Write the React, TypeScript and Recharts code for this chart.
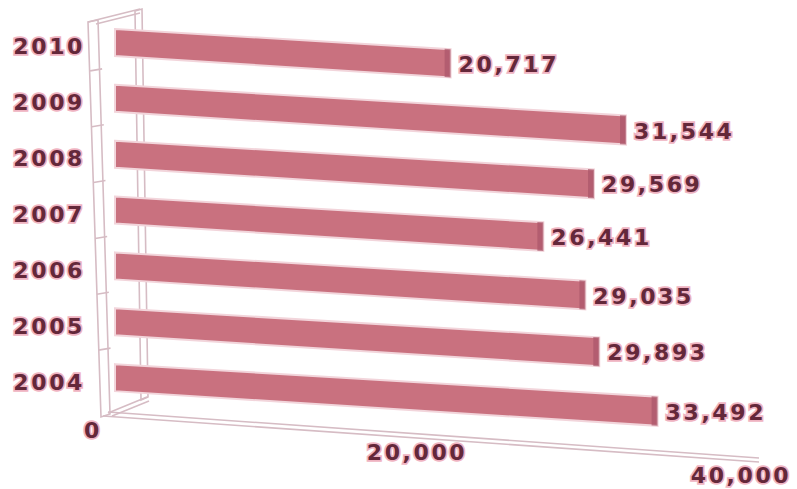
import { BarChart, Bar, XAxis, YAxis, LabelList } from "recharts";

const years = ["2010", "2009", "2008", "2007", "2006", "2005", "2004"];
const values = [20717, 31544, 29569, 26441, 29035, 29893, 33492];
const xTicks = [0, 20000, 40000];

const W = 797;
const H = 489;
const LEFT = 115; // y axis width = left edge of the plot
const TOP = 15;
const RIGHT = 34;
const X_AXIS_H = 83;
const BAND = (H - TOP - X_AXIS_H) / years.length;
const SLOPE = 0.06; // fake perspective: bars drop as they go right

const BAR = "#c9717f";
const BAR_EDGE = "#f2d5db";
const BAR_END = "#a9566a";
const FRAME = "#d6bcc4";

const textStyle = {
  fontFamily: '"DejaVu Sans", Verdana, sans-serif',
  fontWeight: 700,
  fontSize: 22,
  letterSpacing: 2.6,
  fill: "#64283a",
  stroke: "#efb3c1",
  strokeWidth: 3.5,
  paintOrder: "stroke" as const,
};

const data = years.map((year, i) => ({ year, value: values[i] }));

function SlantBar(props: any) {
  const { x, y, width, height } = props;
  if (!width || width <= 0) return null;
  const drop = width * SLOPE;
  const grow = width * 0.004;
  const main = `${x},${y} ${x + width},${y + drop} ${x + width},${y + height + drop + grow} ${x},${y + height}`;
  const ex = x + width - 6;
  const eDrop = (width - 6) * SLOPE;
  const end = `${ex},${y + eDrop} ${x + width},${y + drop} ${x + width},${y + height + drop + grow} ${ex},${y + height + eDrop + grow}`;
  return (
    <g>
      <polygon points={main} fill={BAR} stroke={BAR_EDGE} strokeWidth={2} />
      <polygon points={end} fill={BAR_END} opacity={0.7} />
    </g>
  );
}

function SlantLabel(props: any) {
  const { x, y, width, height, value } = props;
  return (
    <text
      x={x + width + 8}
      y={y + height / 2 + width * SLOPE + 2}
      dominantBaseline="central"
      textAnchor="start"
      style={textStyle}
    >
      {Number(value).toLocaleString("en-US")}
    </text>
  );
}

function YTick(props: any) {
  const { y, payload } = props;
  return (
    <text x={LEFT - 30} y={y + 4} textAnchor="end" dominantBaseline="central" style={textStyle}>
      {payload.value}
    </text>
  );
}

function XTick(props: any) {
  const { x, payload } = props;
  return (
    <text
      x={x - 22}
      y={430 + (x - LEFT) * 0.07}
      textAnchor="middle"
      dominantBaseline="central"
      style={textStyle}
    >
      {Number(payload.value).toLocaleString("en-US")}
    </text>
  );
}

// 3D-looking wall frame drawn around the category axis
function Frame() {
  const marks = years.slice(1).map((_, i) => TOP + (i + 1) * BAND);
  return (
    <g fill="none" stroke={FRAME} strokeWidth={1.6}>
      <polygon points="88,22 98,20 110,414 101,417" fill="#fff" />
      <polygon points="135,11 142,9 148,397 141,400" fill="#fff" />
      <line x1={88} y1={22} x2={140} y2={9} />
      <line x1={96} y1={24} x2={140} y2={13} />
      <line x1={103} y1={416} x2={W - 38} y2={462} />
      <line x1={108} y1={412} x2={W - 38} y2={458} />
      <line x1={108} y1={413} x2={147} y2={397} />
      <line x1={112} y1={416} x2={149} y2={401} />
      {marks.map((m, i) => (
        <line key={i} x1={88 + (m / 400) * 12} y1={m} x2={100 + (m / 400) * 12} y2={m - 2} />
      ))}
    </g>
  );
}

export default function App() {
  return (
    <div style={{ position: "absolute", left: 0, top: 0, width: W, height: H, background: "#fff" }}>
      <BarChart
        width={W}
        height={H}
        data={data}
        layout="vertical"
        margin={{ top: TOP, right: RIGHT, bottom: 0, left: 0 }}
      >
        <Frame />
        <XAxis
          type="number"
          domain={[0, 40000]}
          ticks={xTicks}
          height={X_AXIS_H}
          axisLine={false}
          tickLine={false}
          tick={<XTick />}
          interval={0}
        />
        <YAxis
          type="category"
          dataKey="year"
          width={LEFT}
          axisLine={false}
          tickLine={false}
          tick={<YTick />}
          interval={0}
        />
        <Bar dataKey="value" barSize={27} shape={<SlantBar />} isAnimationActive={false}>
          <LabelList dataKey="value" content={<SlantLabel />} />
        </Bar>
      </BarChart>
    </div>
  );
}
